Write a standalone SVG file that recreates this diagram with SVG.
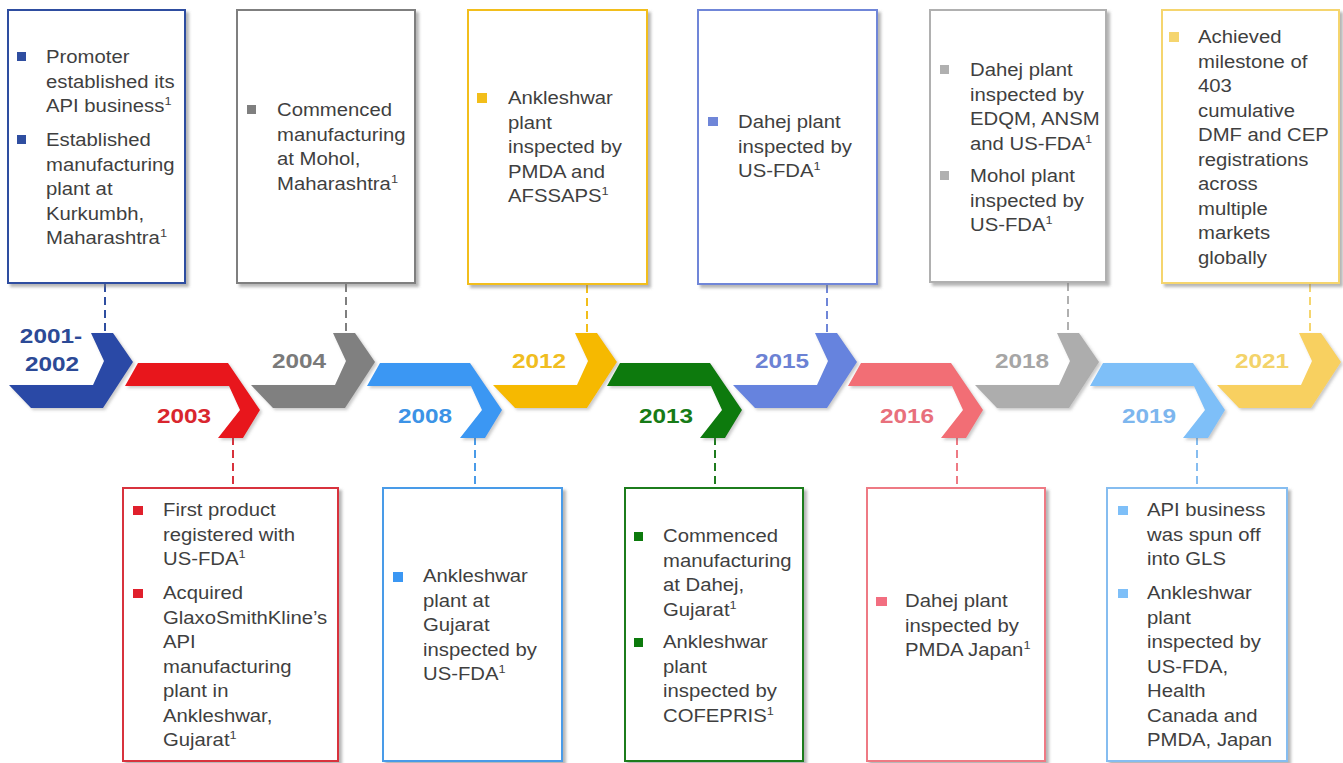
<svg xmlns="http://www.w3.org/2000/svg" width="1343" height="763" viewBox="0 0 1343 763">
  <defs>
    <filter id="boxShadow" x="-10%" y="-10%" width="125%" height="125%">
      <feDropShadow dx="3" dy="3" stdDeviation="1.8" flood-color="#7a7a7a" flood-opacity="0.55"/>
    </filter>
    <filter id="chevShadow" x="-10%" y="-10%" width="125%" height="130%">
      <feDropShadow dx="2" dy="2" stdDeviation="1.5" flood-color="#666" flood-opacity="0.35"/>
    </filter>
    <!-- upward chevron: point at x=0 -->
    <polygon id="chevUp" points="-42,333 -20,333 0,362 -30,408 -102,408 -124,385 -40,385 -29,361"/>
    <!-- downward chevron: point at x=0 -->
    <polygon id="chevDown" points="-122,363 -32,363 0,410 -17,438 -42,438 -20,410 -31,386 -135,386"/>
  </defs>
  <style>
    .box { fill: #ffffff; stroke-width: 2; filter: url(#boxShadow); }
    .body { font-family: "Liberation Sans", Arial, sans-serif; font-size: 17.5px; fill: #3f3f3f; }
    .sup { font-size: 11px; }
    .year { font-family: "Liberation Sans", Arial, sans-serif; font-size: 21px; font-weight: bold; text-anchor: middle; }
    .dash { fill: none; stroke-width: 2; stroke-dasharray: 8 5; }
    .chev { filter: url(#chevShadow); }
  </style>

  <rect x="0" y="0" width="1343" height="763" fill="#ffffff"/>

  <!-- connectors from boxes to timeline -->
  <g id="connectors">
    <line class="dash" x1="105" y1="284" x2="105" y2="334" stroke="#2f4ea0"/>
    <line class="dash" x1="346" y1="284" x2="346" y2="334" stroke="#7f7f7f"/>
    <line class="dash" x1="587" y1="285" x2="587" y2="334" stroke="#f2be1a"/>
    <line class="dash" x1="827" y1="285" x2="827" y2="334" stroke="#6f86d8"/>
    <line class="dash" x1="1068" y1="283" x2="1068" y2="334" stroke="#b0b0b0"/>
    <line class="dash" x1="1310" y1="284" x2="1310" y2="334" stroke="#f5d56e"/>
    <line class="dash" x1="233" y1="437" x2="233" y2="488" stroke="#d8323c"/>
    <line class="dash" x1="475" y1="437" x2="475" y2="488" stroke="#4a9be8"/>
    <line class="dash" x1="715" y1="437" x2="715" y2="488" stroke="#1e7b1e"/>
    <line class="dash" x1="957" y1="437" x2="957" y2="488" stroke="#ee7a84"/>
    <line class="dash" x1="1197" y1="437" x2="1197" y2="488" stroke="#86bdf0"/>
  </g>

  <!-- timeline chevrons with year labels -->
  <g id="y2001">
    <use href="#chevUp" class="chev" transform="translate(133,0)" fill="#2a4aa6"/>
    <text class="year" transform="translate(51,343) scale(1.16,1)" fill="#2c4a96">2001-</text>
    <text class="year" transform="translate(52,371) scale(1.16,1)" fill="#2c4a96">2002</text>
  </g>
  <g id="y2003">
    <use href="#chevDown" class="chev" transform="translate(260,0)" fill="#e8161e"/>
    <text class="year" transform="translate(184,423) scale(1.16,1)" fill="#d9262e">2003</text>
  </g>
  <g id="y2004">
    <use href="#chevUp" class="chev" transform="translate(375,0)" fill="#808080"/>
    <text class="year" transform="translate(299,368) scale(1.16,1)" fill="#7a7a7a">2004</text>
  </g>
  <g id="y2008">
    <use href="#chevDown" class="chev" transform="translate(502,0)" fill="#3b97f3"/>
    <text class="year" transform="translate(425,423) scale(1.16,1)" fill="#3c93e6">2008</text>
  </g>
  <g id="y2012">
    <use href="#chevUp" class="chev" transform="translate(617,0)" fill="#f6b900"/>
    <text class="year" transform="translate(539,368) scale(1.16,1)" fill="#f0bd20">2012</text>
  </g>
  <g id="y2013">
    <use href="#chevDown" class="chev" transform="translate(742,0)" fill="#0c7a0c"/>
    <text class="year" transform="translate(666,423) scale(1.16,1)" fill="#177b17">2013</text>
  </g>
  <g id="y2015">
    <use href="#chevUp" class="chev" transform="translate(857,0)" fill="#6683de"/>
    <text class="year" transform="translate(782,368) scale(1.16,1)" fill="#6c82d4">2015</text>
  </g>
  <g id="y2016">
    <use href="#chevDown" class="chev" transform="translate(983,0)" fill="#f26e74"/>
    <text class="year" transform="translate(907,423) scale(1.16,1)" fill="#e8707c">2016</text>
  </g>
  <g id="y2018">
    <use href="#chevUp" class="chev" transform="translate(1099,0)" fill="#adadad"/>
    <text class="year" transform="translate(1022,368) scale(1.16,1)" fill="#a6a6a6">2018</text>
  </g>
  <g id="y2019">
    <use href="#chevDown" class="chev" transform="translate(1225,0)" fill="#7ebff8"/>
    <text class="year" transform="translate(1149,423) scale(1.16,1)" fill="#7db6ee">2019</text>
  </g>
  <g id="y2021">
    <use href="#chevUp" class="chev" transform="translate(1341,0)" fill="#f8d060"/>
    <text class="year" transform="translate(1262,368) scale(1.16,1)" fill="#f3d36a">2021</text>
  </g>

  <!-- 2001-2002 box -->
  <g id="box2001">
    <rect class="box" x="8" y="10" width="177" height="273" stroke="#2f4ea0"/>
    <rect x="17" y="52" width="9" height="9" fill="#2f4ea0"/>
    <rect x="17" y="135" width="9" height="9" fill="#2f4ea0"/>
    <g class="body" transform="translate(46,0) scale(1.16,1)">
      <text x="0" y="63.5">Promoter</text>
      <text x="0" y="88">established its</text>
      <text x="0" y="112.5">API business<tspan class="sup" dy="-7">1</tspan></text>
      <text x="0" y="146.5">Established</text>
      <text x="0" y="171">manufacturing</text>
      <text x="0" y="195.5">plant at</text>
      <text x="0" y="220">Kurkumbh,</text>
      <text x="0" y="244.5">Maharashtra<tspan class="sup" dy="-7">1</tspan></text>
    </g>
  </g>

  <!-- 2004 box -->
  <g id="box2004">
    <rect class="box" x="237" y="10" width="178" height="273" stroke="#7f7f7f"/>
    <rect x="247" y="105" width="9" height="9" fill="#7f7f7f"/>
    <g class="body" transform="translate(277,0) scale(1.16,1)">
      <text x="0" y="116.5">Commenced</text>
      <text x="0" y="141">manufacturing</text>
      <text x="0" y="165.5">at Mohol,</text>
      <text x="0" y="190">Maharashtra<tspan class="sup" dy="-7">1</tspan></text>
    </g>
  </g>

  <!-- 2012 box -->
  <g id="box2012">
    <rect class="box" x="468" y="10" width="179" height="274" stroke="#f2be1a"/>
    <rect x="477" y="93" width="10" height="10" fill="#f2be1a"/>
    <g class="body" transform="translate(508,0) scale(1.16,1)">
      <text x="0" y="104.5">Ankleshwar</text>
      <text x="0" y="129">plant</text>
      <text x="0" y="153.5">inspected by</text>
      <text x="0" y="178">PMDA and</text>
      <text x="0" y="202.5">AFSSAPS<tspan class="sup" dy="-7">1</tspan></text>
    </g>
  </g>

  <!-- 2015 box -->
  <g id="box2015">
    <rect class="box" x="698" y="10" width="179" height="274" stroke="#6f86d8"/>
    <rect x="708" y="117" width="10" height="9" fill="#6f86d8"/>
    <g class="body" transform="translate(738,0) scale(1.16,1)">
      <text x="0" y="128.5">Dahej plant</text>
      <text x="0" y="153">inspected by</text>
      <text x="0" y="177.5">US-FDA<tspan class="sup" dy="-7">1</tspan></text>
    </g>
  </g>

  <!-- 2018 box -->
  <g id="box2018">
    <rect class="box" x="930" y="10" width="176" height="272" stroke="#b0b0b0"/>
    <rect x="940" y="65" width="9" height="9" fill="#b0b0b0"/>
    <rect x="940" y="171" width="9" height="9" fill="#b0b0b0"/>
    <g class="body" transform="translate(970,0) scale(1.16,1)">
      <text x="0" y="76.5">Dahej plant</text>
      <text x="0" y="101">inspected by</text>
      <text x="0" y="125.5">EDQM, ANSM</text>
      <text x="0" y="150">and US-FDA<tspan class="sup" dy="-7">1</tspan></text>
      <text x="0" y="182.5">Mohol plant</text>
      <text x="0" y="207">inspected by</text>
      <text x="0" y="231.5">US-FDA<tspan class="sup" dy="-7">1</tspan></text>
    </g>
  </g>

  <!-- 2021 box -->
  <g id="box2021">
    <rect class="box" x="1162" y="10" width="177" height="273" stroke="#f5d56e"/>
    <rect x="1169" y="32" width="10" height="10" fill="#f5d56e"/>
    <g class="body" transform="translate(1198,0) scale(1.16,1)">
      <text x="0" y="43.5">Achieved</text>
      <text x="0" y="68">milestone of</text>
      <text x="0" y="92.5">403</text>
      <text x="0" y="117">cumulative</text>
      <text x="0" y="141.5">DMF and CEP</text>
      <text x="0" y="166">registrations</text>
      <text x="0" y="190.5">across</text>
      <text x="0" y="215">multiple</text>
      <text x="0" y="239.5">markets</text>
      <text x="0" y="264">globally</text>
    </g>
  </g>

  <!-- 2003 box -->
  <g id="box2003">
    <rect class="box" x="123" y="488" width="215" height="273" stroke="#d8323c"/>
    <rect x="133" y="506" width="10" height="9" fill="#e0202c"/>
    <rect x="133" y="589" width="10" height="9" fill="#e0202c"/>
    <g class="body" transform="translate(163,0) scale(1.16,1)">
      <text x="0" y="516.5">First product</text>
      <text x="0" y="541">registered with</text>
      <text x="0" y="565.5">US-FDA<tspan class="sup" dy="-7">1</tspan></text>
      <text x="0" y="599.5">Acquired</text>
      <text x="0" y="624">GlaxoSmithKline’s</text>
      <text x="0" y="648.5">API</text>
      <text x="0" y="673">manufacturing</text>
      <text x="0" y="697.5">plant in</text>
      <text x="0" y="722">Ankleshwar,</text>
      <text x="0" y="746.5">Gujarat<tspan class="sup" dy="-7">1</tspan></text>
    </g>
  </g>

  <!-- 2008 box -->
  <g id="box2008">
    <rect class="box" x="383" y="488" width="179" height="273" stroke="#4a9be8"/>
    <rect x="393" y="572" width="10" height="10" fill="#3b97f3"/>
    <g class="body" transform="translate(423,0) scale(1.16,1)">
      <text x="0" y="582.5">Ankleshwar</text>
      <text x="0" y="607">plant at</text>
      <text x="0" y="631.5">Gujarat</text>
      <text x="0" y="656">inspected by</text>
      <text x="0" y="680.5">US-FDA<tspan class="sup" dy="-7">1</tspan></text>
    </g>
  </g>

  <!-- 2013 box -->
  <g id="box2013">
    <rect class="box" x="625" y="488" width="178" height="273" stroke="#1e7b1e"/>
    <rect x="634" y="532" width="9" height="9" fill="#0c7a0c"/>
    <rect x="634" y="638" width="9" height="9" fill="#0c7a0c"/>
    <g class="body" transform="translate(663,0) scale(1.16,1)">
      <text x="0" y="542.5">Commenced</text>
      <text x="0" y="567">manufacturing</text>
      <text x="0" y="591.5">at Dahej,</text>
      <text x="0" y="616">Gujarat<tspan class="sup" dy="-7">1</tspan></text>
      <text x="0" y="648.5">Ankleshwar</text>
      <text x="0" y="673">plant</text>
      <text x="0" y="697.5">inspected by</text>
      <text x="0" y="722">COFEPRIS<tspan class="sup" dy="-7">1</tspan></text>
    </g>
  </g>

  <!-- 2016 box -->
  <g id="box2016">
    <rect class="box" x="867" y="488" width="178" height="273" stroke="#ee7a84"/>
    <rect x="876" y="597" width="11" height="9" fill="#f26e80"/>
    <g class="body" transform="translate(905,0) scale(1.16,1)">
      <text x="0" y="607.5">Dahej plant</text>
      <text x="0" y="632">inspected by</text>
      <text x="0" y="656.5">PMDA Japan<tspan class="sup" dy="-7">1</tspan></text>
    </g>
  </g>

  <!-- 2019 box -->
  <g id="box2019">
    <rect class="box" x="1107" y="488" width="180" height="273" stroke="#86bdf0"/>
    <rect x="1118" y="506" width="10" height="9" fill="#7ebff8"/>
    <rect x="1118" y="589" width="10" height="9" fill="#7ebff8"/>
    <g class="body" transform="translate(1147,0) scale(1.16,1)">
      <text x="0" y="516.5">API business</text>
      <text x="0" y="541">was spun off</text>
      <text x="0" y="565.5">into GLS</text>
      <text x="0" y="599.5">Ankleshwar</text>
      <text x="0" y="624">plant</text>
      <text x="0" y="648.5">inspected by</text>
      <text x="0" y="673">US-FDA,</text>
      <text x="0" y="697.5">Health</text>
      <text x="0" y="722">Canada and</text>
      <text x="0" y="746.5">PMDA, Japan</text>
    </g>
  </g>
</svg>
